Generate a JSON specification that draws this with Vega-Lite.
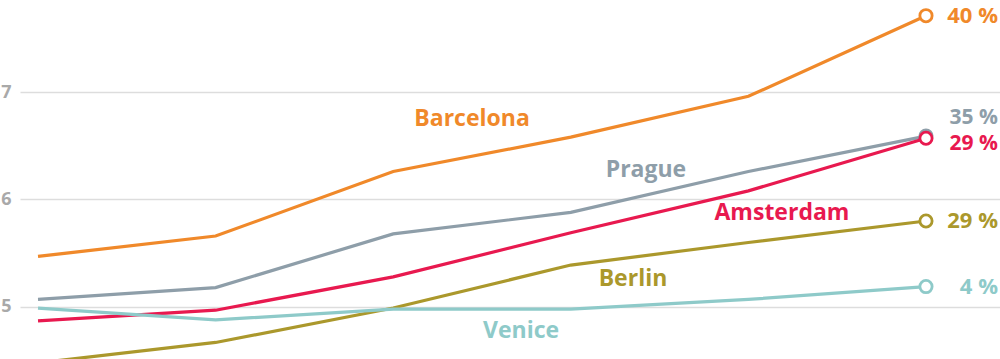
{
  "$schema": "https://vega.github.io/schema/vega-lite/v6.json",
  "width": 980,
  "height": 359,
  "padding": {"left": 20, "top": 0, "right": 0, "bottom": 0},
  "autosize": {"type": "none"},
  "background": "white",
  "config": {"view": {"stroke": null}, "font": "Open Sans"},
  "datasets": {
    "series": [
      {"city": "Barcelona", "t": 0, "v": 5.47}, {"city": "Barcelona", "t": 1, "v": 5.66}, {"city": "Barcelona", "t": 2, "v": 6.26}, {"city": "Barcelona", "t": 3, "v": 6.58}, {"city": "Barcelona", "t": 4, "v": 6.96}, {"city": "Barcelona", "t": 5, "v": 7.71},
      {"city": "Prague", "t": 0, "v": 5.07}, {"city": "Prague", "t": 1, "v": 5.18}, {"city": "Prague", "t": 2, "v": 5.68}, {"city": "Prague", "t": 3, "v": 5.88}, {"city": "Prague", "t": 4, "v": 6.26}, {"city": "Prague", "t": 5, "v": 6.59},
      {"city": "Amsterdam", "t": 0, "v": 4.87}, {"city": "Amsterdam", "t": 1, "v": 4.97}, {"city": "Amsterdam", "t": 2, "v": 5.28}, {"city": "Amsterdam", "t": 3, "v": 5.69}, {"city": "Amsterdam", "t": 4, "v": 6.08}, {"city": "Amsterdam", "t": 5, "v": 6.57},
      {"city": "Berlin", "t": 0, "v": 4.48}, {"city": "Berlin", "t": 1, "v": 4.67}, {"city": "Berlin", "t": 2, "v": 4.99}, {"city": "Berlin", "t": 3, "v": 5.39}, {"city": "Berlin", "t": 4, "v": 5.6}, {"city": "Berlin", "t": 5, "v": 5.8},
      {"city": "Venice", "t": 0, "v": 4.99}, {"city": "Venice", "t": 1, "v": 4.88}, {"city": "Venice", "t": 2, "v": 4.98}, {"city": "Venice", "t": 3, "v": 4.98}, {"city": "Venice", "t": 4, "v": 5.07}, {"city": "Venice", "t": 5, "v": 5.19}
    ],
    "ends": [
      {"city": "Barcelona", "t": 5, "v": 7.71, "pct": "40 %"},
      {"city": "Prague", "t": 5, "v": 6.59, "pct": "35 %"},
      {"city": "Amsterdam", "t": 5, "v": 6.57, "pct": "29 %"},
      {"city": "Berlin", "t": 5, "v": 5.8, "pct": "29 %"},
      {"city": "Venice", "t": 5, "v": 5.19, "pct": "4 %"}
    ],
    "names": [
      {"city": "Barcelona", "t": 2.444, "v": 6.749},
      {"city": "Prague", "t": 3.423, "v": 6.274},
      {"city": "Amsterdam", "t": 4.189, "v": 5.874},
      {"city": "Berlin", "t": 3.35, "v": 5.26},
      {"city": "Venice", "t": 2.72, "v": 4.777}
    ]
  },
  "encoding": {
    "x": {"field": "t", "type": "quantitative", "scale": {"domain": [-0.1014, 5.4167], "nice": false, "zero": false}, "axis": null},
    "y": {"field": "v", "type": "quantitative", "scale": {"domain": [4.516, 7.856], "nice": false, "zero": false},
      "axis": {"values": [5, 6, 7], "title": null, "domain": false, "ticks": false, "labelPadding": 9, "labelFontSize": 18, "labelFontWeight": "bold", "labelColor": "#a9a9a9", "gridColor": "#dddddd", "gridWidth": 1.5, "labelFont": "Open Sans"}},
    "color": {"field": "city", "type": "nominal", "legend": null,
      "scale": {"domain": ["Barcelona", "Prague", "Amsterdam", "Berlin", "Venice"], "range": ["#f0892a", "#8e9ea9", "#e8194f", "#ab982c", "#8ecac9"]}}
  },
  "layer": [
    {"data": {"name": "series"}, "mark": {"type": "line", "strokeWidth": 3.2, "clip": true}, "encoding": {"detail": {"field": "city"}}},
    {"data": {"name": "ends"}, "mark": {"type": "point", "shape": "circle", "size": 150, "filled": false, "fill": "white", "strokeWidth": 2.8, "opacity": 1}},
    {"data": {"name": "ends"}, "transform": [{"filter": "datum.city !== 'Prague' && datum.city !== 'Amsterdam'"}], "mark": {"type": "text", "align": "right", "baseline": "middle", "dx": 72, "fontSize": 22, "fontWeight": "bold"}, "encoding": {"text": {"field": "pct"}}},
    {"data": {"name": "ends"}, "transform": [{"filter": "datum.city === 'Prague'"}], "mark": {"type": "text", "align": "right", "baseline": "middle", "dx": 72, "dy": -18, "fontSize": 21, "fontWeight": "bold"}, "encoding": {"text": {"field": "pct"}}},
    {"data": {"name": "ends"}, "transform": [{"filter": "datum.city === 'Amsterdam'"}], "mark": {"type": "text", "align": "right", "baseline": "middle", "dx": 72, "dy": 6, "fontSize": 21, "fontWeight": "bold"}, "encoding": {"text": {"field": "pct"}}},
    {"data": {"name": "names"}, "mark": {"type": "text", "align": "center", "baseline": "middle", "fontSize": 23, "fontWeight": "bold"}, "encoding": {"text": {"field": "city"}}}
  ]
}
